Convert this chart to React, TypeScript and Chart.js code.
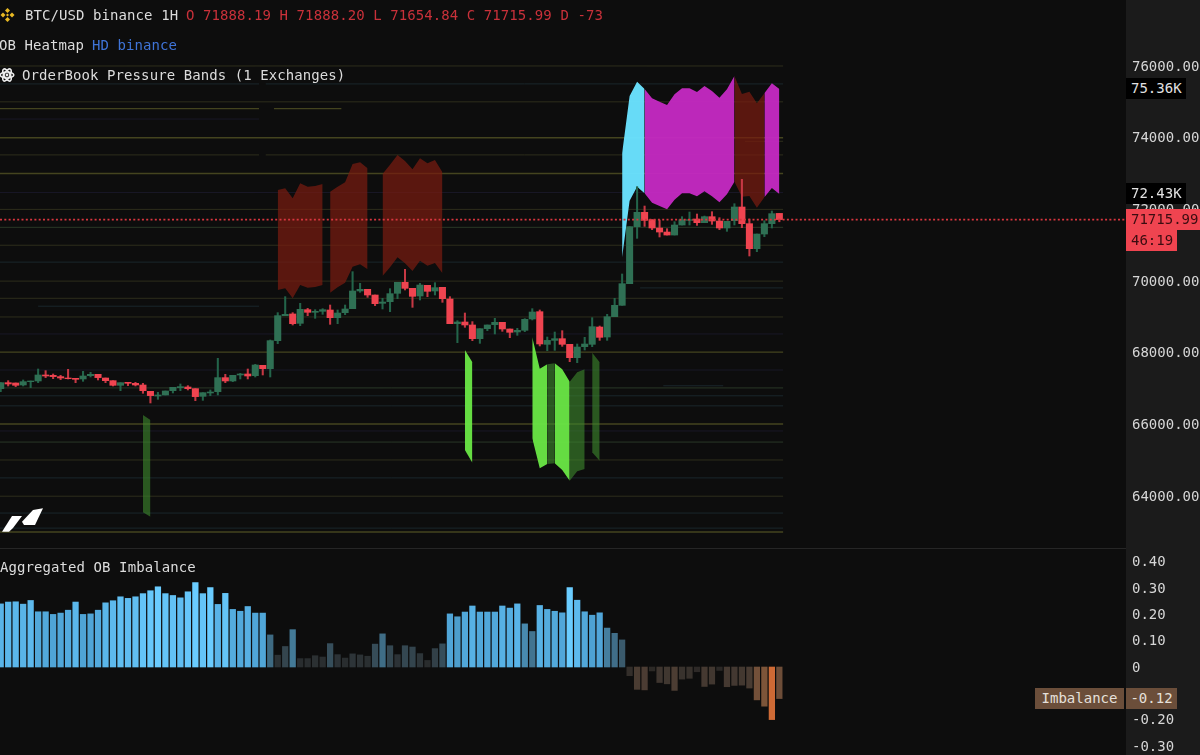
import React, { useEffect, useRef } from "react";
import { Chart, registerables } from "chart.js";

Chart.register(...registerables);

const open = [67000,67167,67158,67102,67195,67214,67381,67372,67335,67297,67288,67270,67362,67400,67297,67223,67093,67177,67149,67102,66925,66795,66823,66944,67028,67046,67000,66786,66879,66916,67307,67214,67381,67409,67362,67651,67558,68339,69036,69083,68822,69203,69129,69157,69194,68980,69120,69231,69724,69770,69612,69380,69426,69659,69966,69798,69584,69882,69724,69826,69501,68813,68859,68776,68394,68673,68785,68850,68664,68580,68627,68943,69147,68236,68347,68394,68236,67864,68171,68236,68719,68440,69007,69324,69928,71518,71918,71713,71481,71369,71285,71564,71695,71732,71629,71797,71676,71481,71685,72067,71602,70904,71313,71602,71888.19];
const high = [67167,67223,67158,67242,67214,67548,67502,67409,67372,67539,67288,67483,67455,67400,67297,67223,67167,67177,67177,67149,66925,66898,66935,67037,67130,67084,67000,66888,66963,67846,67400,67372,67428,67548,67679,67651,68357,69120,69566,69120,69380,69240,69203,69231,69333,69194,69333,70263,69938,69770,69612,69519,69789,69966,70328,69798,69938,69882,69956,69826,69566,68896,69110,68869,68673,68776,68962,68850,68664,68683,68952,69231,69194,68440,68580,68617,68236,68245,68431,68980,68747,69073,69519,70198,71518,72634,72094,71713,71704,71462,71657,71797,71927,71871,71815,71936,71769,71667,72159,72838,71732,71313,71685,71955,71888.2];
const low = [66916,67074,67056,67074,67028,67167,67307,67279,67251,67270,67167,67204,67325,67242,67167,67074,66944,67084,67074,66870,66600,66702,66823,66879,66944,66963,66665,66674,66805,66823,67167,67195,67270,67270,67325,67381,67325,68255,69036,68776,68757,69036,68962,69073,68794,68813,69064,69231,69687,69547,69315,69222,69147,69510,69752,69268,69473,69566,69612,69408,68813,68283,68711,68339,68264,68618,68525,68599,68422,68487,68590,68915,68190,68059,68068,68180,67752,67724,68078,68171,68347,68347,69007,69324,69928,71193,71527,71434,71230,71285,71285,71564,71564,71555,71629,71583,71434,71388,71564,71490,70700,70821,71239,71481,71654.84];
const close = [67167,67130,67093,67195,67214,67381,67353,67335,67297,67279,67260,67353,67400,67307,67223,67093,67167,67149,67102,66944,66805,66823,66935,67037,67056,67000,66777,66888,66907,67307,67214,67372,67409,67353,67660,67558,68339,69036,69073,68813,69213,69129,69157,69203,68980,69110,69222,69724,69770,69612,69371,69417,69650,69966,69798,69575,69891,69715,69817,69510,68813,68859,68776,68394,68673,68776,68850,68664,68571,68627,68934,69138,68246,68347,68394,68236,67864,68161,68245,68729,68431,69007,69324,69928,71518,71918,71695,71481,71369,71285,71564,71713,71713,71629,71797,71676,71481,71667,72067,71602,70904,71313,71602,71881,71715.99];

const imbalance = [0.240,0.247,0.248,0.239,0.253,0.210,0.210,0.200,0.205,0.216,0.247,0.200,0.202,0.216,0.244,0.252,0.267,0.261,0.267,0.279,0.290,0.305,0.279,0.272,0.263,0.286,0.321,0.279,0.302,0.238,0.280,0.219,0.212,0.230,0.205,0.205,0.122,0.045,0.078,0.142,0.032,0.032,0.043,0.038,0.089,0.047,0.034,0.050,0.046,0.041,0.087,0.126,0.081,0.047,0.081,0.076,0.051,0.025,0.070,0.088,0.202,0.191,0.209,0.232,0.209,0.209,0.209,0.232,0.224,0.240,0.164,0.135,0.234,0.219,0.212,0.206,0.302,0.254,0.210,0.197,0.206,0.148,0.128,0.103,-0.033,-0.085,-0.087,-0.015,-0.059,-0.064,-0.089,-0.046,-0.043,-0.018,-0.074,-0.065,-0.013,-0.075,-0.070,-0.069,-0.080,-0.125,-0.149,-0.200,-0.120];

const priceTicks = [64000,66000,68000,70000,72000,74000,76000];
const imbalanceTicks = [-0.3,-0.2,0,0.1,0.2,0.3,0.4];

const bandAUpper = [66265,66126];
const bandALower = [63550,63429];
const bandBUpper = [72541,72588,72309,72727,72634,72653,72709];
const bandBLower = [69752,69798,69519,69891,69817,69835,69891];
const bandCUpper = [72495,72634,72755,73266,73313,73146];
const bandCLower = [69677,69826,69956,70403,70468,70328];
const bandDUpper = [72988,73248,73518,73350,73118,73425,73285,73378,73034];
const bandDLower = [70142,70384,70663,70496,70282,70570,70431,70505,70217];
const bandEUpper = [68078,67734];
const bandELower = [65289,64935];
const bandFUpper = [68431,67557,67678,67706,67539,67195,67455,67539];
const bandFLower = [65614,64777,64898,64917,64731,64433,64694,64759];
const bandGUpper = [68004,67734];
const bandGLower = [65224,64991];
const bandCyanUpper = [73563,75163,75563,75358];
const bandCyanLower = [70663,72243,72634,72448];
const bandMagentaUpper = [75358,75098,75005,74912,75209,75377,75377,75274,75442,75302,75116,75349,75721];
const bandMagentaLower = [72448,72187,72094,72001,72271,72448,72448,72364,72504,72364,72197,72420,72773];
const bandRedUpper = [75721,75219,75284,74958,75237];
const bandRedLower = [72773,72355,72373,72048,72336];
const bandMagenta2Upper = [75237,75516,75360];
const bandMagenta2Lower = [72336,72597,72430];

const heatPrice = [76000,75500,75500,75000,74810,74810,74520,74000,73520,73520,73000,72470,72000,71500,71000,70530,70000,69520,69300,69000,68525,68020,67520,67020,66800,66520,66015,65820,65510,65010,64510,64000,63530,63110,63000,69810,67080,73900];
const heatFrom = [-1,-1,35.4,-1,-1,36.5,-1,-1,-1,35.4,-1,-1,-1,-1,-1,-1,-1,-1,5,-1,-1,-1,-1,-1,-1,-1,-1,-1,-1,-1,-1,-1,-1,-1,-1,85.4,88.5,99.4];
const heatTo = [104.5,34.5,104.5,104.5,34.5,45.5,34.5,104.5,34.5,104.5,104.5,104.5,104.5,104.5,104.5,104.5,104.5,104.5,34.5,104.5,104.5,104.5,104.5,104.5,104.5,104.5,104.5,104.5,104.5,104.5,104.5,104.5,104.5,104.5,104.5,104.5,96.5,104.5];
const heatTone = [0,1,1,0,3,3,2,3,0,0,3,2,0,4,0,1,0,0,1,0,2,3,2,4,1,1,3,2,4,0,1,0,1,1,3,1,1,0];
const heatPalette = ["#2e2e1c","#1a272c","#191827","#44441f","#2a3827"];

const TICK = "#d6d6d6";
const MONO = '"DejaVu Sans Mono", "Liberation Mono", monospace';

const positiveRamp: [number, number[]][] = [[0,[38,40,41]],[0.04,[42,46,48]],[0.08,[52,70,80]],[0.12,[62,104,128]],[0.15,[69,128,160]],[0.2,[79,164,214]],[0.25,[92,184,236]],[0.3,[106,204,255]]];
const negativeRamp: [number, number[]][] = [[0,[38,36,35]],[0.05,[58,51,46]],[0.09,[76,61,51]],[0.125,[115,80,57]],[0.15,[125,85,57]],[0.2,[206,106,53]]];

function ramp(stops: [number, number[]][], v: number) {
  let i = 0;
  while (i < stops.length - 2 && v > stops[i + 1][0]) i++;
  const [a, ca] = stops[i];
  const [b, cb] = stops[i + 1];
  const t = Math.max(0, Math.min(1, (v - a) / (b - a)));
  return `rgb(${ca.map((c, k) => Math.round(c + (cb[k] - c) * t)).join(",")})`;
}
const barColor = (v: number) => (v >= 0 ? ramp(positiveRamp, v) : ramp(negativeRamp, -v));

const X_MIN = -0.0935;
const X_MAX = 150.3;

const panelPlugin = {
  id: "panel",
  beforeDraw(chart: any) {
    const { ctx, width, height } = chart;
    ctx.save();
    ctx.fillStyle = "#1b1b1b";
    ctx.fillRect(1126, 0, width - 1126, height);
    ctx.restore();
  },
};

function band(start: number, upper: number[], lower: number[], color: string) {
  const shared = { type: "line", borderWidth: 0, pointRadius: 0, tension: 0, order: 10, backgroundColor: color };
  return [
    { ...shared, data: upper.map((y, i) => ({ x: start + i, y })), fill: "+1" },
    { ...shared, data: lower.map((y, i) => ({ x: start + i, y })), fill: false },
  ];
}

const xScale = { type: "linear", display: false, offset: false, min: X_MIN, max: X_MAX };
const yBase = {
  position: "right",
  grid: { display: false, drawTicks: false },
  border: { display: false },
  afterFit(s: any) { s.width = 74; s.paddingTop = 0; s.paddingBottom = 0; },
};
const tickBase = { color: TICK, font: { family: MONO, size: 14 }, padding: 6, crossAlign: "near", autoSkip: false, labelOffset: 1 };
const setTicks = (values: number[]) => (s: any) => { s.ticks = values.map((value) => ({ value })); };

export default function App() {
  const priceRef = useRef<HTMLCanvasElement>(null);
  const imbRef = useRef<HTMLCanvasElement>(null);

  useEffect(() => {
    document.body.style.background = "#0d0d0d";
    const BRIGHT = "rgba(106,232,70,0.95)";
    const DARK = "rgba(62,135,45,0.62)";
    const RED = "rgba(120,28,16,0.72)";
    const MAG = "rgba(198,42,196,0.95)";
    const datasets: any[] = [
      ...heatPrice.map((p, i) => ({
        type: "line", order: 20, pointRadius: 0, borderWidth: heatTone[i] === 3 ? 1.4 : 1,
        borderColor: heatPalette[heatTone[i]], fill: false,
        data: [{ x: heatFrom[i], y: p }, { x: heatTo[i], y: p }],
      })),
      ...band(19, bandAUpper, bandALower, DARK),
      ...band(37, bandBUpper, bandBLower, RED),
      ...band(44, bandCUpper, bandCLower, RED),
      ...band(51, bandDUpper, bandDLower, RED),
      ...band(62, bandEUpper, bandELower, BRIGHT),
      ...band(71, bandFUpper.slice(0, 3), bandFLower.slice(0, 3), BRIGHT),
      ...band(73, bandFUpper.slice(2, 4), bandFLower.slice(2, 4), DARK),
      ...band(74, bandFUpper.slice(3, 6), bandFLower.slice(3, 6), BRIGHT),
      ...band(76, bandFUpper.slice(5, 8), bandFLower.slice(5, 8), DARK),
      ...band(79, bandGUpper, bandGLower, DARK),
      ...band(83, bandCyanUpper, bandCyanLower, "rgba(106,226,255,0.97)"),
      ...band(86, bandMagentaUpper, bandMagentaLower, MAG),
      ...band(98, bandRedUpper, bandRedLower, RED),
      ...band(102, bandMagenta2Upper, bandMagenta2Lower, MAG),
      {
        type: "bar", order: 3, grouped: false, barThickness: 1.4, borderWidth: 0,
        backgroundColor: open.map((o, i) => (close[i] >= o ? "#23644a" : "#c63844")),
        data: open.map((_, i) => ({ x: i, y: [low[i], high[i]] })),
      },
      {
        type: "bar", order: 2, grouped: false, barThickness: 6.4, borderWidth: 0,
        backgroundColor: open.map((o, i) => (close[i] >= o ? "#2f7054" : "#ef4450")),
        data: open.map((o, i) => ({ x: i, y: [o, close[i]] })),
      },
      {
        type: "line", order: 1, pointRadius: 0, borderWidth: 1.6, borderColor: "#d8363f", borderDash: [2, 2.3], fill: false,
        data: [{ x: X_MIN, y: close[close.length - 1] }, { x: X_MAX, y: close[close.length - 1] }],
      },
    ];

    const priceChart = new Chart(priceRef.current!, {
      type: "bar",
      data: { datasets },
      plugins: [panelPlugin],
      options: {
        animation: false, responsive: false,
        layout: { padding: 0 },
        plugins: { legend: { display: false }, tooltip: { enabled: false }, title: { display: false } },
        scales: {
          x: xScale,
          y: {
            ...yBase, min: 62555, max: 77841,
            afterBuildTicks: setTicks(priceTicks),
            ticks: { ...tickBase, callback: (v: number) => v.toFixed(2) },
          },
        },
      },
    } as any);

    const imbChart = new Chart(imbRef.current!, {
      type: "bar",
      data: {
        datasets: [{
          barThickness: 5.6, borderWidth: 0,
          backgroundColor: imbalance.map(barColor),
          data: imbalance.map((y, x) => ({ x, y })),
        }],
      },
      plugins: [panelPlugin],
      options: {
        animation: false, responsive: false,
        layout: { padding: 0 },
        plugins: { legend: { display: false }, tooltip: { enabled: false }, title: { display: false } },
        scales: {
          x: xScale,
          y: {
            ...yBase, min: -0.3346, max: 0.4487,
            afterBuildTicks: setTicks(imbalanceTicks),
            ticks: {
              ...tickBase,
              callback: (v: number) => (Math.abs(v) < 1e-6 ? "0" : v.toFixed(2)),
            },
          },
        },
      },
    } as any);

    return () => { priceChart.destroy(); imbChart.destroy(); };
  }, []);

  const text = (x: number, y: number, color: string, s: string) => (
    <span style={{ position: "absolute", left: x, top: y, lineHeight: "18px", color, whiteSpace: "pre", letterSpacing: 0.08 }}>{s}</span>
  );
  const tag = (x: number, y: number, w: number, h: number, bg: string, color: string, s: string) => (
    <div style={{ position: "absolute", left: x, top: y, width: w, height: h, background: bg, color, lineHeight: `${h}px`, paddingLeft: 5, boxSizing: "border-box", whiteSpace: "pre", overflow: "hidden" }}>{s}</div>
  );

  return (
    <div style={{ position: "fixed", left: 0, top: 0, width: 1200, height: 755, overflow: "hidden", background: "#0d0d0d", fontFamily: MONO, fontSize: 14 }}>
      <canvas ref={priceRef} width={1200} height={548} style={{ position: "absolute", left: 0, top: 0, width: 1200, height: 548 }} />
      <canvas ref={imbRef} width={1200} height={206} style={{ position: "absolute", left: 0, top: 549, width: 1200, height: 206 }} />
      <div style={{ position: "absolute", left: 0, top: 548, width: 1126, height: 1, background: "#262626" }} />
      <div style={{ position: "absolute", left: 1126, top: 548, width: 74, height: 1, background: "#1b1b1b" }} />

      <svg width={20} height={20} style={{ position: "absolute", left: 0, top: 5 }} viewBox="0 0 20 20">
        <g fill="#e8b923">
          <path d="M7.5 3 L10 5.5 L7.5 8 L5 5.5 Z" />
          <path d="M3 7.5 L5.5 10 L3 12.5 L0.5 10 Z" />
          <path d="M12 7.5 L14.5 10 L12 12.5 L9.5 10 Z" />
          <path d="M7.5 12 L10 14.5 L7.5 17 L5 14.5 Z" />
          <path d="M7.5 8.5 L9 10 L7.5 11.5 L6 10 Z" />
        </g>
      </svg>
      {text(25, 6, "#dcdcdc", "BTC/USD binance 1H")}
      {text(186, 6, "#c9313a", "O 71888.19 H 71888.20 L 71654.84 C 71715.99 D -73")}
      {text(-1, 36, "#dcdcdc", "OB Heatmap")}
      {text(92, 36, "#3f74d8", "HD binance")}
      <svg width={16} height={16} style={{ position: "absolute", left: 0, top: 67 }} viewBox="0 0 16 16">
        <g fill="none" stroke="#eeeeee" strokeWidth={1.6}>
          <ellipse cx={7} cy={8} rx={6.8} ry={3} />
          <ellipse cx={7} cy={8} rx={6.8} ry={3} transform="rotate(60 7 8)" />
          <ellipse cx={7} cy={8} rx={6.8} ry={3} transform="rotate(120 7 8)" />
        </g>
        <circle cx={7} cy={8} r={1.4} fill="#eeeeee" />
      </svg>
      {text(22, 66, "#dcdcdc", "OrderBook Pressure Bands (1 Exchanges)")}
      {text(0, 558, "#dcdcdc", "Aggregated OB Imbalance")}

      <svg width={50} height={30} style={{ position: "absolute", left: 0, top: 507 }} viewBox="0 0 50 30">
        <polygon points="2,24.7 12,9 22,9 13,21 9,24.7" fill="#ffffff" />
        <polygon points="22,14.7 33,3 43,1.3 35,18 24,18" fill="#ffffff" />
      </svg>

      {tag(1126, 78, 60, 21, "#000000", "#e2e2e2", "75.36K")}
      {tag(1126, 183, 60, 21, "#000000", "#e2e2e2", "72.43K")}
      {tag(1126, 209, 74, 21, "#ef4450", "#3a0c10", "71715.99")}
      {tag(1126, 230, 51, 21, "#ef4450", "#3a0c10", "46:19")}
      <div style={{ position: "absolute", left: 1035, top: 688, width: 89, height: 21, background: "#6b4e3a", color: "#e6e0da", lineHeight: "21px", textAlign: "center", whiteSpace: "pre" }}>Imbalance</div>
      <div style={{ position: "absolute", left: 1126, top: 688, width: 51, height: 21, background: "#6b4e3a", color: "#e6e0da", lineHeight: "21px", textAlign: "center", whiteSpace: "pre" }}>-0.12</div>
    </div>
  );
}
